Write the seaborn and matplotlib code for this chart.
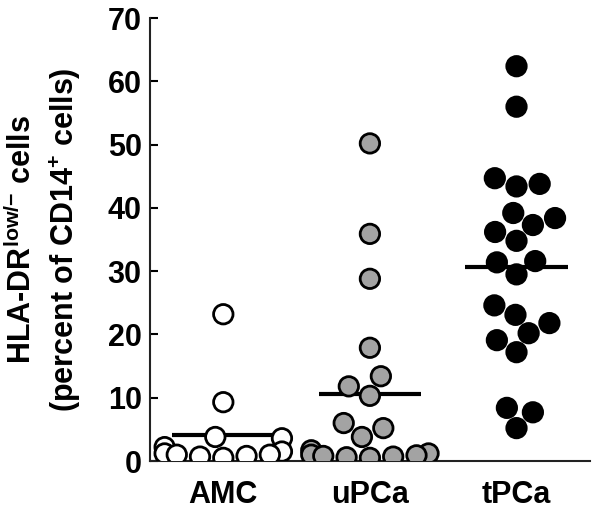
import matplotlib.pyplot as plt
import numpy as np
import pandas as pd
import seaborn as sns

groups = ["AMC", "uPCa", "tPCa"]
amc = [23.2, 9.3, 3.8, 3.6, 2.2, 1.5, 1.2, 1.0, 1.0, 0.8, 0.7, 0.5]
upca = [50.2, 35.9, 28.8, 17.9, 13.4, 11.8, 10.3, 6.0, 5.2, 3.8,
        1.7, 1.2, 1.0, 0.9, 0.8, 0.7, 0.6, 0.5]
tpca = [62.4, 56.0, 44.7, 43.8, 43.4, 39.2, 38.4, 37.3, 36.2, 34.8, 31.6,
        31.4, 29.5, 24.6, 23.1, 21.8, 20.2, 19.1, 17.2, 8.4, 7.7, 5.2]
fill_colors = ["white", "#a3a3a3", "black"]

df = pd.DataFrame({
    "group": ["AMC"] * len(amc) + ["uPCa"] * len(upca) + ["tPCa"] * len(tpca),
    "value": amc + upca + tpca,
})

sns.set_theme(style="ticks")
plt.rcParams["font.family"] = ["Liberation Sans", "DejaVu Sans"]
plt.rcParams["font.weight"] = "bold"
plt.rcParams["mathtext.fontset"] = "custom"
plt.rcParams["mathtext.rm"] = "Liberation Sans:bold"
plt.rcParams["mathtext.it"] = "Liberation Sans:bold"
plt.rcParams["mathtext.bf"] = "Liberation Sans:bold"
for key in ["text.color", "axes.labelcolor", "xtick.color", "ytick.color"]:
    plt.rcParams[key] = "black"

fig = plt.figure(figsize=(6, 5.18), dpi=100)
ax = fig.add_axes([0.25, 0.11, 0.733, 0.855])

sns.swarmplot(
    data=df, x="group", y="value", hue="group", order=groups,
    hue_order=groups, palette=fill_colors, size=14, edgecolor="black",
    linewidth=2, legend=False, warn_thresh=1, ax=ax, zorder=3,
)

# group mean bars
means = df.groupby("group")["value"].mean().reindex(groups)
pos = np.arange(len(groups))
ax.hlines(means.values, pos - 0.35, pos + 0.35, color="black", lw=3, zorder=2)

ax.set_xlim(-0.5, 2.5)
ax.set_ylim(0, 70)
ax.set_yticks(range(0, 80, 10))
ax.set_xlabel("")
ax.set_ylabel("HLA-DR$^{\\mathrm{low/{-}}}$ cells\n(percent of CD14$^{+}$ cells)",
              fontsize=22, fontweight="bold", linespacing=1.35)
ax.yaxis.set_label_coords(-0.152, 0.5)
sns.despine(ax=ax)
for side in ["left", "bottom"]:
    ax.spines[side].set_linewidth(1.5)
    ax.spines[side].set_color("#222222")
ax.tick_params(axis="y", direction="in", length=6, width=1.5, labelsize=22, pad=6)
ax.tick_params(axis="x", length=0, labelsize=22, pad=14)

fig.savefig("out.png", dpi=100)
